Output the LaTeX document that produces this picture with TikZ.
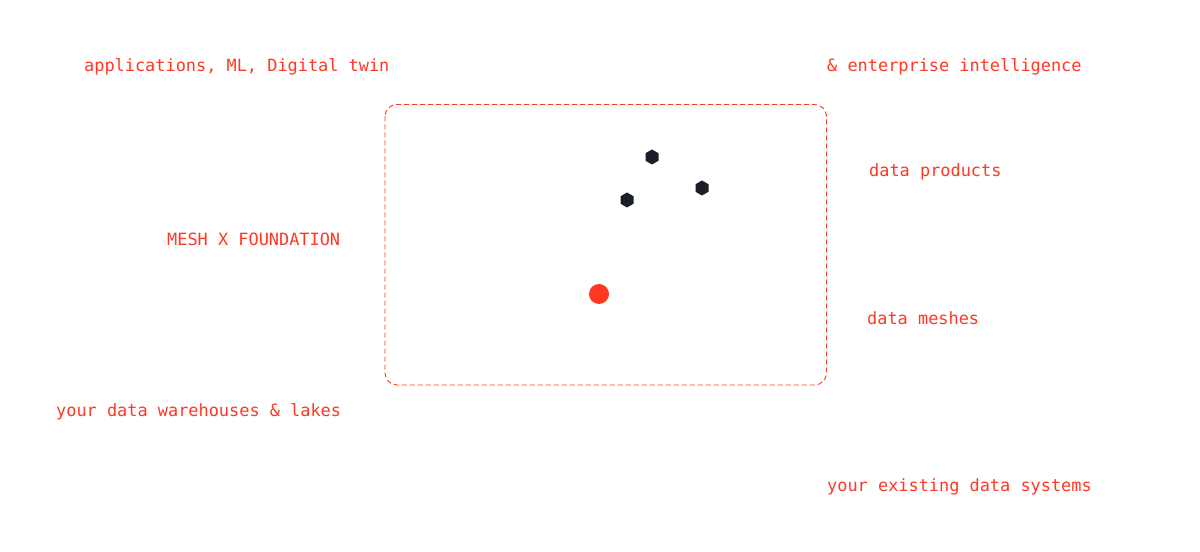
\documentclass[tikz,border=0pt]{standalone}
\usepackage{fontspec}
\setmonofont{DejaVu Sans Mono}
\usetikzlibrary{shapes.geometric}
\definecolor{meshred}{RGB}{255,56,36}
\definecolor{dotdark}{RGB}{27,31,39}
\tikzset{
  lbl/.style={anchor=base west,inner sep=0pt,text=meshred,font=\ttfamily\fontsize{16.9bp}{20bp}\selectfont},
  hexdot/.style={regular polygon,regular polygon sides=6,shape border rotate=30,fill=dotdark,draw=none,minimum size=15bp,inner sep=0pt},
  reddot/.style={circle,fill=meshred,draw=none,minimum size=20bp,inner sep=0pt},
  frame/.style={draw=meshred,line width=0.9bp,dash pattern=on 5bp off 3bp,rounded corners=12bp}
}
\begin{document}
\begin{tikzpicture}[x=1bp,y=-1bp]
\useasboundingbox[fill=white] (0,0) rectangle (1200,552);
\draw[frame] (385,104.5) rectangle (826.5,385);
\node[lbl] (apps) at (84,72) {applications, ML, Digital twin};
\node[lbl] (ent) at (827,72) {\& enterprise intelligence};
\node[lbl] (prod) at (869,176.5) {data products};
\node[lbl] (mesh) at (167,246) {MESH X FOUNDATION};
\node[lbl] (meshes) at (867,324.5) {data meshes};
\node[lbl] (wh) at (56,416.5) {your data warehouses \& lakes};
\node[lbl] (sys) at (827,491.5) {your existing data systems};
\node[hexdot] (h1) at (652,157) {};
\node[hexdot] (h2) at (702,188) {};
\node[hexdot] (h3) at (627,200) {};
\node[reddot] (r) at (599,294) {};
\end{tikzpicture}
\end{document}
